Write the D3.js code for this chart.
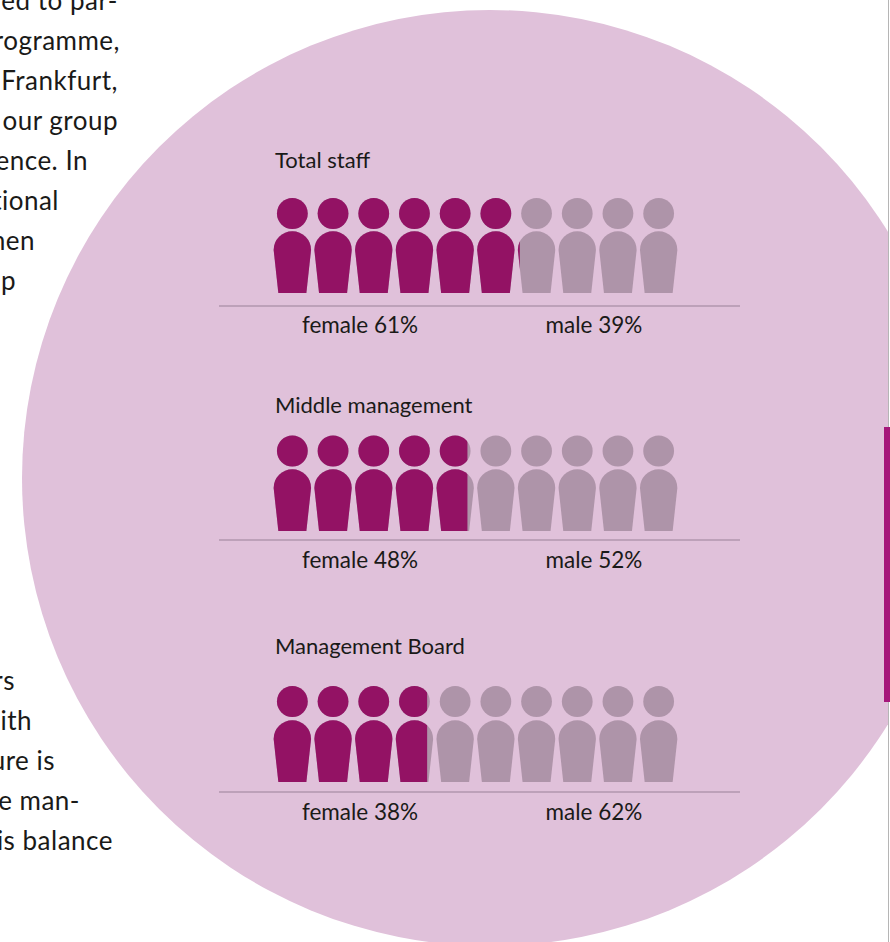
<!DOCTYPE html>
<html>
<head>
<meta charset="utf-8">
<style>
  html, body { margin: 0; padding: 0; background: #fff; overflow: hidden; }
  svg { display: block; }
  text { font-family: Lato, "Open Sans", sans-serif; fill: #1a1a18; }
</style>
</head>
<body>
<svg id="chart" width="890" height="942"></svg>
<script src="https://cdn.jsdelivr.net/npm/d3@7"></script>
<script>
/* ── DATA ── */
const categories = ['Total staff', 'Middle management', 'Management Board'];
const femaleShare = [61, 48, 38];
const maleShare = [39, 52, 62];
const figureCount = 10;
const textTop = ['ed to par-', 'rogramme,', 'Frankfurt,', 'our group', 'ence. In', 'tional', 'men', 'up'];
const textBottom = ['rs', 'ith', 'ure is', 'e man-', 'is balance'];
const textTopRight = [118, 120, 118, 118, 88, 59, 35, 16];
const textBottomRight = [15, 32, 55, 80, 113];

/* ── LAYOUT ── */
const W = 890, H = 942;
const COL = { bg: '#e0c1da', fill: '#931264', rest: '#ae94a9', rule: '#9a8297', bar: '#a5177a', edge: '#b5b5b5' };
const rows = [
  { title: 168, head: 213.5, body: 231, rule: 306, label: 333 },
  { title: 413, head: 451, body: 469, rule: 540, label: 568 },
  { title: 654, head: 701.5, body: 720, rule: 792, label: 820 }
];
const svg = d3.select('#chart');

const share = d3.scaleLinear().domain([0, 100]).range([274, 677]);
const slot = d3.scaleBand().domain(d3.range(figureCount)).range([272, 679]).paddingInner(0).paddingOuter(0);

// Outline of one person: shoulders are a half circle, tapered down to the feet
function bodyPath(cx, top) {
  const p = d3.path();
  p.moveTo(cx - 14, top + 62);
  p.lineTo(cx - 18.7, top + 19);
  p.arc(cx, top + 19, 18.7, Math.PI, 0);
  p.lineTo(cx + 14, top + 62);
  p.closePath();
  return p.toString();
}

/* ── PAGE ── */
const defs = svg.append('defs');
defs.append('clipPath').attr('id', 'page')
  .append('rect').attr('x', 0).attr('y', 0).attr('width', 888).attr('height', H);

svg.append('circle')
  .attr('cx', 490).attr('cy', 478).attr('r', 468)
  .attr('fill', COL.bg).attr('clip-path', 'url(#page)');

svg.append('rect').attr('x', 888).attr('y', 0).attr('width', 1).attr('height', H).attr('fill', COL.edge);
svg.append('rect').attr('x', 884).attr('y', 427).attr('width', 6).attr('height', 275).attr('fill', COL.bar);

/* ── BODY TEXT ── */
function column(lines, rights, first) {
  svg.append('g').selectAll('text').data(lines).join('text')
    .attr('x', (d, i) => rights[i])
    .attr('y', (d, i) => first + i * 40)
    .attr('text-anchor', 'end')
    .style('font-size', '26px')
    .style('letter-spacing', '0.5px')
    .text(d => d);
}
column(textTop, textTopRight, 10);
column(textBottom, textBottomRight, 690);

/* ── ROWS ── */
categories.forEach((name, r) => {
  const pos = rows[r];
  const g = svg.append('g');

  g.append('text').attr('x', 275).attr('y', pos.title)
    .style('font-size', '22px').text(name);

  const clipId = 'female-' + r;
  defs.append('clipPath').attr('id', clipId)
    .append('rect')
    .attr('x', share(0) - 2).attr('y', pos.head - 20)
    .attr('width', share(femaleShare[r]) - share(0) + 2).attr('height', 110);

  const draw = (parent, color) => {
    const fig = parent.selectAll('g').data(d3.range(figureCount)).join('g').attr('fill', color);
    fig.append('circle')
      .attr('cx', d => slot(d) + slot.bandwidth() / 2)
      .attr('cy', pos.head).attr('r', 15.4);
    fig.append('path')
      .attr('d', d => bodyPath(slot(d) + slot.bandwidth() / 2, pos.body));
  };
  draw(g.append('g'), COL.rest);
  draw(g.append('g').attr('clip-path', `url(#${clipId})`), COL.fill);

  g.append('line')
    .attr('x1', 219).attr('x2', 740).attr('y1', pos.rule).attr('y2', pos.rule)
    .attr('stroke', COL.rule).attr('stroke-width', 1.2);

  g.append('text').attr('x', 360).attr('y', pos.label).attr('text-anchor', 'middle')
    .style('font-size', '22.5px').text(`female ${femaleShare[r]}%`);
  g.append('text').attr('x', 594).attr('y', pos.label).attr('text-anchor', 'middle')
    .style('font-size', '22.5px').text(`male ${maleShare[r]}%`);
});
</script>
</body>
</html>
